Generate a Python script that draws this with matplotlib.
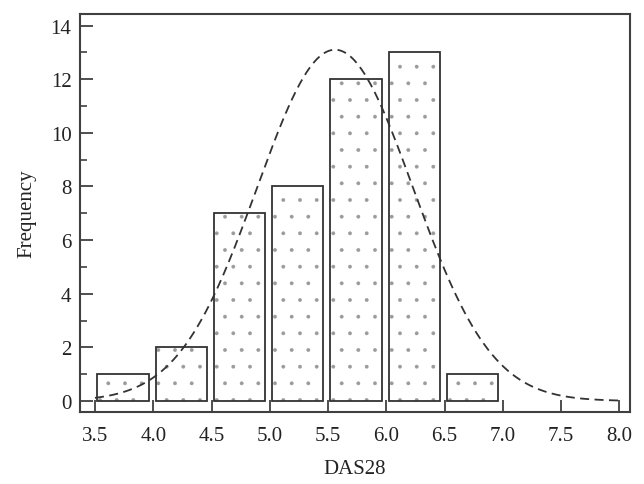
import numpy as np
import matplotlib
matplotlib.use("Agg")
import matplotlib.pyplot as plt

bin_edges = [3.5, 4.0, 4.5, 5.0, 5.5, 6.0, 6.5]
counts = [1, 2, 7, 8, 12, 13, 1]
fit_mean = 5.56
fit_sd = 0.67
bin_width = 0.5
n_total = sum(counts)

plt.rcParams['font.family'] = ['Liberation Serif', 'DejaVu Serif']
plt.rcParams['hatch.linewidth'] = 0.3

fig = plt.figure(figsize=(6.44, 4.85), dpi=100)
ax = fig.add_axes([0.124, 0.148, 0.854, 0.821])

lefts = np.array(bin_edges) + 0.02
# dotted texture
ax.bar(lefts, counts, width=0.44, align='edge', facecolor='white',
       edgecolor='#9a9a9a', linewidth=0, hatch='.', zorder=2)
# outlines
ax.bar(lefts, counts, width=0.44, align='edge', facecolor='none',
       edgecolor='#333333', linewidth=1.3, zorder=2.5)

xs = np.linspace(3.5, 8.0, 400)
ys = n_total * bin_width / (fit_sd * np.sqrt(2 * np.pi)) * np.exp(-(xs - fit_mean) ** 2 / (2 * fit_sd ** 2))
ax.plot(xs, ys, linestyle=(0, (5, 3)), color='#333333', linewidth=1.3, zorder=3)

ax.set_xlim(3.37, 8.09)
ax.set_ylim(-0.42, 14.43)
ax.set_xticks(np.arange(3.5, 8.01, 0.5))
ax.set_xticklabels([f"{v:.1f}" for v in np.arange(3.5, 8.01, 0.5)])
ax.set_yticks(range(0, 15, 2))
ax.set_yticks(range(1, 15, 2), minor=True)

for s in ax.spines.values():
    s.set_color('#404040')
    s.set_linewidth(1.5)

ax.tick_params(axis='both', which='major', direction='in', length=9, width=1.3,
               color='#404040', labelsize=15, labelcolor='#222222')
ax.tick_params(axis='y', which='minor', direction='in', length=5, width=1.2, color='#404040')
ax.tick_params(axis='x', pad=10)
ax.tick_params(axis='y', pad=6)

ax.set_xlabel('DAS28', fontsize=15, color='#222222', labelpad=10)
ax.set_ylabel('Frequency', fontsize=15, color='#222222', labelpad=10)

fig.savefig('out.png', dpi=100)
